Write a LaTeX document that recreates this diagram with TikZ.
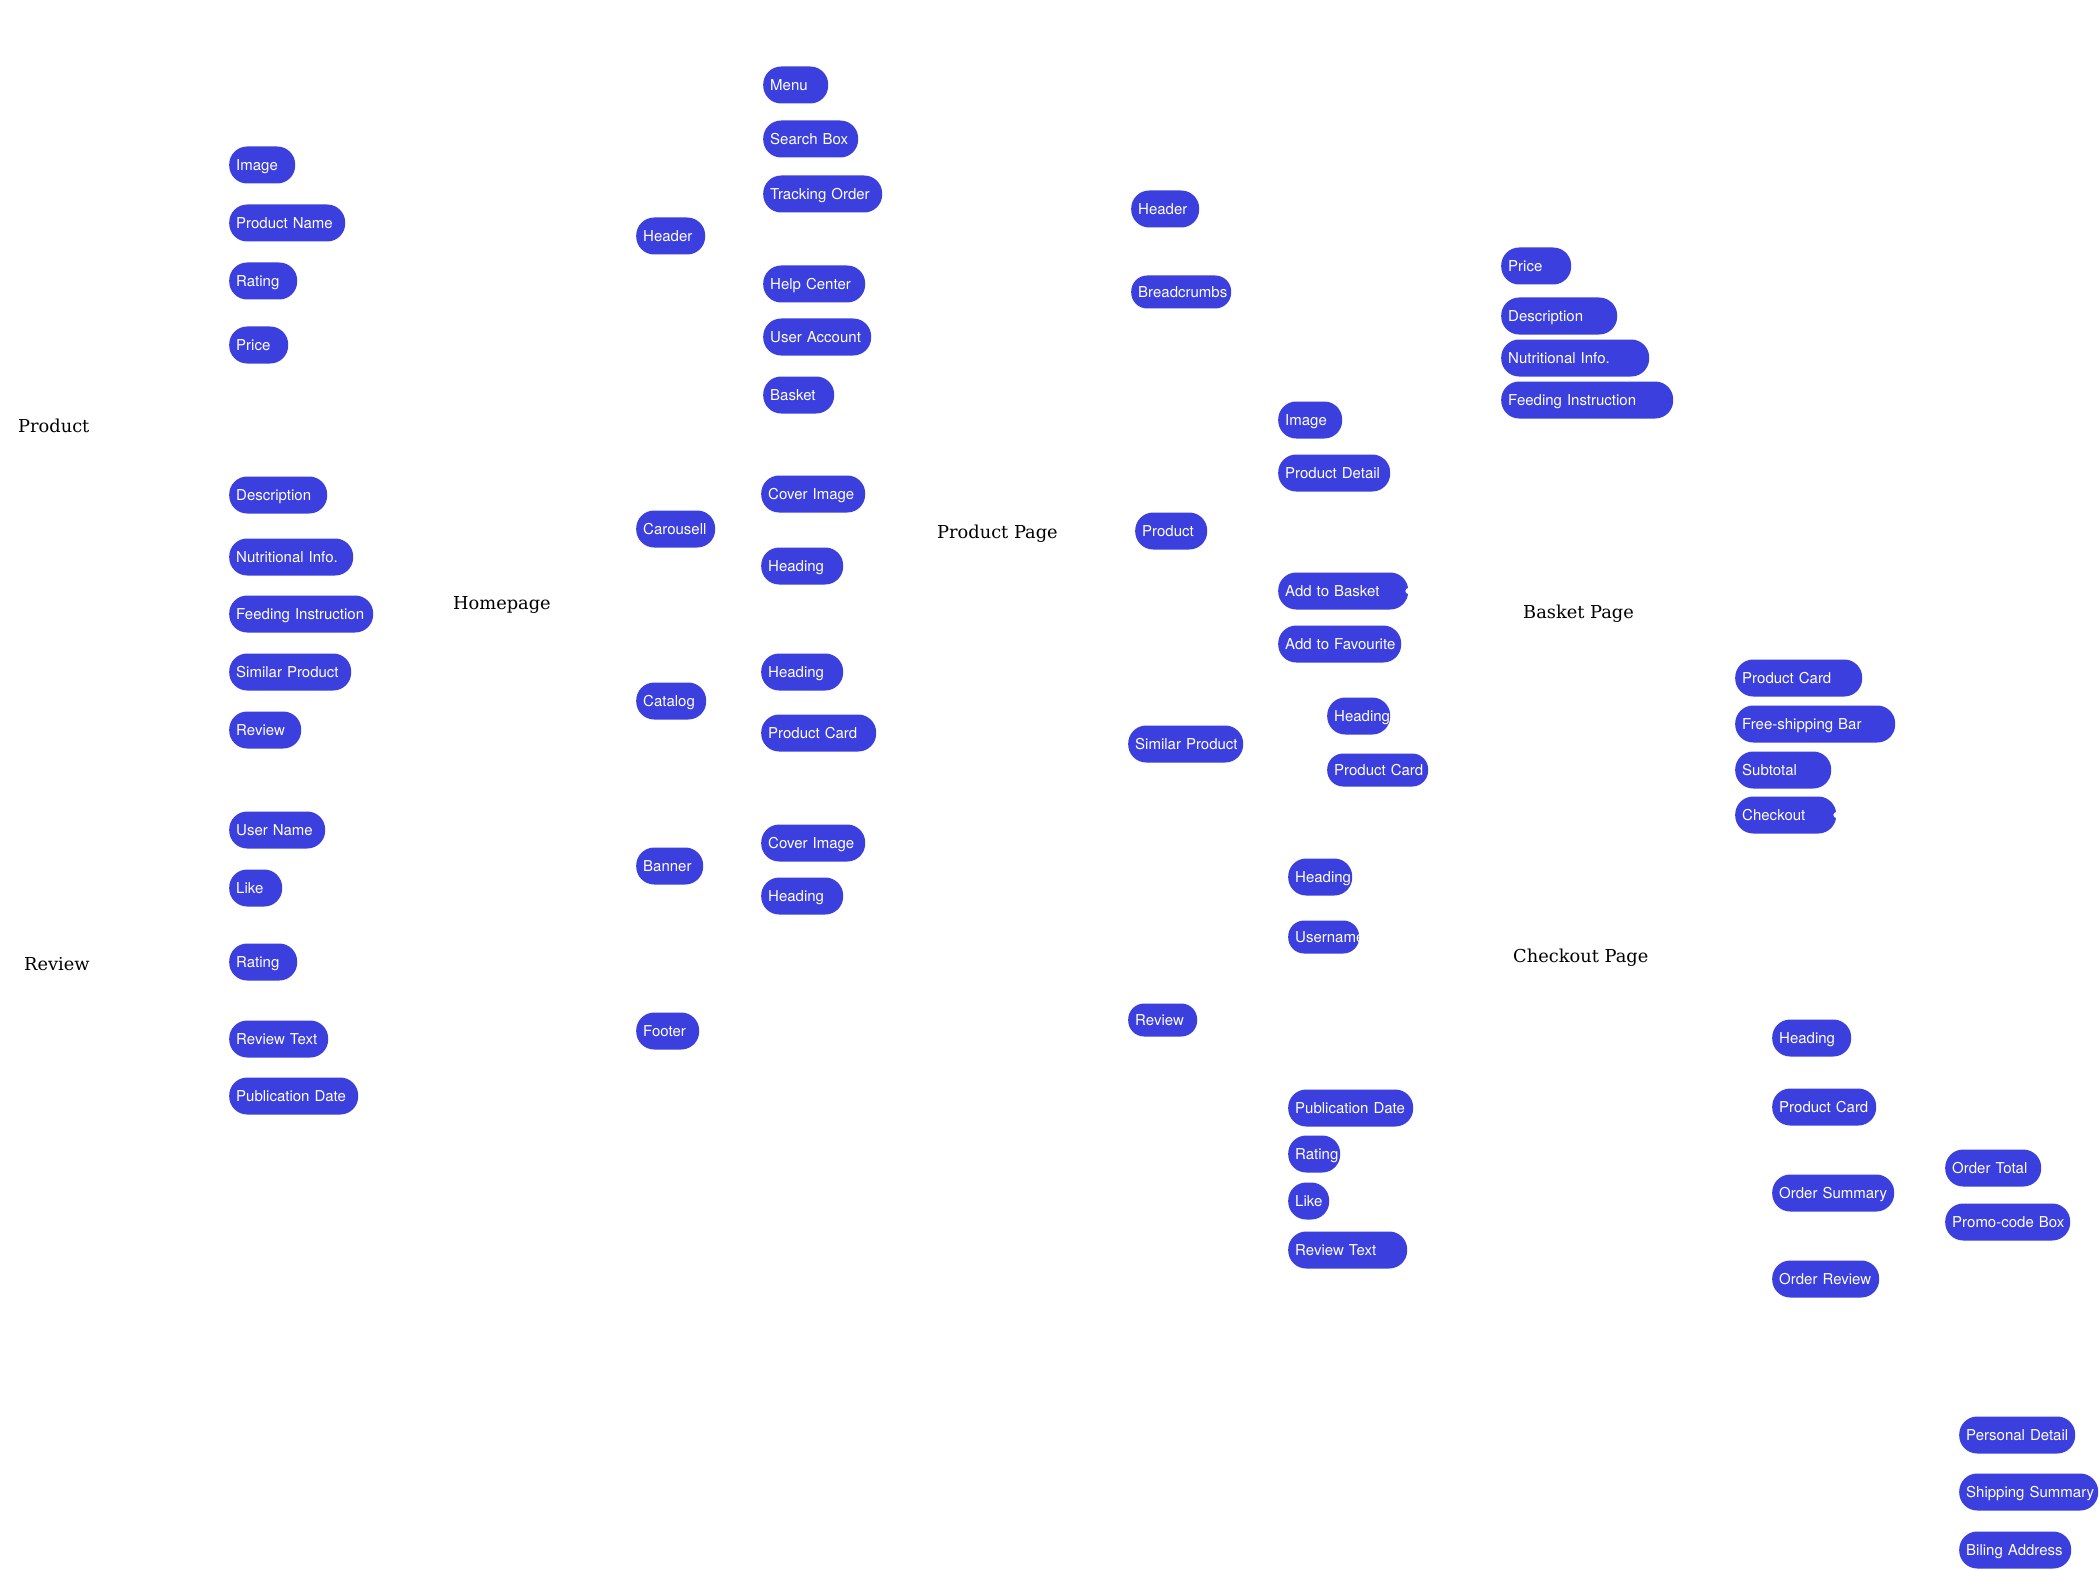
\documentclass[tikz,border=0pt]{standalone}
\usepackage{fontspec}
\usepackage{tikz}
\newfontfamily\pillfamily{TeX Gyre Heros}
\newfontfamily\titlefamily{DejaVu Serif}
\definecolor{pillblue}{RGB}{59,63,221}
\tikzset{
  pill/.style={rectangle, fill=pillblue, rounded corners=18pt, anchor=west,
    minimum height=37pt, inner xsep=7pt, inner ysep=0pt, text width=#1,
    text height=11pt, text depth=0pt, text=white,
    font=\pillfamily\fontsize{15}{18}\selectfont,
    execute at begin node={\leavevmode\hbox\bgroup}, execute at end node={\egroup}},
  slimpill/.style={pill=#1, minimum height=33pt, rounded corners=16pt},
  pagetitle/.style={anchor=base west, inner sep=0pt,
    font=\titlefamily\fontsize{17.8}{20}\selectfont},
}

\begin{document}
\begin{tikzpicture}[x=1pt, y=-1pt]
  \useasboundingbox[fill=white] (0,0) rectangle (2099,1570);

  % page titles
  \node[pagetitle] (tProduct) at (18,432) {Product};
  \node[pagetitle] (tReview) at (24,970) {Review};
  \node[pagetitle] (tHome) at (453,609) {Homepage};
  \node[pagetitle] (tProductPage) at (937,538) {Product Page};
  \node[pagetitle] (tBasket) at (1523,618) {Basket Page};
  \node[pagetitle] (tCheckout) at (1513,962) {Checkout Page};

  % Product
  \node[pill=52pt] (pImage) at (229,165) {Image};
  \node[pill=102pt] (pName) at (229,223) {Product Name};
  \node[pill=54pt] (pRating) at (229,281) {Rating};
  \node[pill=45pt] (pPrice) at (229,345) {Price};
  \node[pill=84pt] (pDesc) at (229,495) {Description};
  \node[pill=110pt] (pNutri) at (229,557) {Nutritional Info.};
  \node[pill=130pt] (pFeed) at (229,614) {Feeding Instruction};
  \node[pill=108pt] (pSimilar) at (229,672) {Similar Product};
  \node[pill=58pt] (pReview) at (229,730) {Review};

  % Review
  \node[pill=82pt] (rUser) at (229,830) {User Name};
  \node[pill=39pt] (rLike) at (229,888) {Like};
  \node[pill=54pt] (rRating) at (229,962) {Rating};
  \node[pill=85pt] (rText) at (229,1039) {Review Text};
  \node[pill=115pt] (rDate) at (229,1096) {Publication Date};

  % Homepage
  \node[pill=55pt] (hHeader) at (636,236) {Header};
  \node[pill=65pt] (hCarousel) at (636,529) {Carousell};
  \node[pill=56pt] (hCatalog) at (636,701) {Catalog};
  \node[pill=53pt] (hBanner) at (636,866) {Banner};
  \node[pill=49pt] (hFooter) at (636,1031) {Footer};
  \node[pill=51pt] (hMenu) at (763,85) {Menu};
  \node[pill=81pt] (hSearch) at (763,139) {Search Box};
  \node[pill=105pt] (hTrack) at (763,194) {Tracking Order};
  \node[pill=88pt] (hHelp) at (763,284) {Help Center};
  \node[pill=94pt] (hAccount) at (763,337) {User Account};
  \node[pill=57pt] (hBasket) at (763,395) {Basket};
  \node[pill=90pt] (hCoverA) at (761,494) {Cover Image};
  \node[pill=68pt] (hHeadA) at (761,566) {Heading};
  \node[pill=68pt] (hHeadB) at (761,672) {Heading};
  \node[pill=101pt] (hCard) at (761,733) {Product Card};
  \node[pill=90pt] (hCoverB) at (761,843) {Cover Image};
  \node[pill=68pt] (hHeadC) at (761,896) {Heading};

  % Product Page
  \node[pill=54pt] (ppHeader) at (1131,209) {Header};
  \node[slimpill=86pt] (ppCrumbs) at (1131,292) {Breadcrumbs};
  \node[pill=58pt] (ppProduct) at (1135,531) {Product};
  \node[pill=101pt] (ppSimilar) at (1128,744) {Similar Product};
  \node[slimpill=55pt] (ppReview) at (1128,1020) {Review};
  \node[pill=50pt] (ppImage) at (1278,420) {Image};
  \node[pill=98pt] (ppDetail) at (1278,473) {Product Detail};
  \node[pill=116pt] (ppAddBasket) at (1278,591) {Add to Basket};
  \node[pill=109pt] (ppAddFav) at (1278,644) {Add to Favourite};
  \node[pill=49pt] (ppSimHead) at (1327,716) {Heading};
  \node[slimpill=87pt] (ppSimCard) at (1327,770) {Product Card};
  \node[pill=50pt] (ppRevHead) at (1288,877) {Heading};
  \node[slimpill=57pt] (ppRevUser) at (1288,937) {Username};
  \node[pill=111pt] (ppRevDate) at (1288,1108) {Publication Date};
  \node[pill=38pt] (ppRevRating) at (1288,1154) {Rating};
  \node[pill=27pt] (ppRevLike) at (1288,1201) {Like};
  \node[pill=105pt] (ppRevText) at (1288,1250) {Review Text};
  \fill[white] (ppAddBasket.east) circle (3);

  % Basket Page
  \node[pill=56pt] (bPrice) at (1501,266) {Price};
  \node[pill=102pt] (bDesc) at (1501,316) {Description};
  \node[pill=134pt] (bNutri) at (1501,358) {Nutritional Info.};
  \node[pill=158pt] (bFeed) at (1501,400) {Feeding Instruction};
  \node[pill=113pt] (bCard) at (1735,678) {Product Card};
  \node[pill=146pt] (bShip) at (1735,724) {Free-shipping Bar};
  \node[pill=82pt] (bSubtotal) at (1735,770) {Subtotal};
  \node[pill=87pt] (bCheckout) at (1735,815) {Checkout};
  \fill[white] (bCheckout.east) circle (3);

  % Checkout Page
  \node[pill=65pt] (cHead) at (1772,1038) {Heading};
  \node[pill=90pt] (cCard) at (1772,1107) {Product Card};
  \node[pill=108pt] (cSummary) at (1772,1193) {Order Summary};
  \node[pill=93pt] (cReview) at (1772,1279) {Order Review};
  \node[pill=82pt] (cTotal) at (1945,1168) {Order Total};
  \node[pill=111pt] (cPromo) at (1945,1222) {Promo-code Box};
  \node[pill=102pt] (cPersonal) at (1959,1435) {Personal Detail};
  \node[pill=125pt] (cShipping) at (1959,1492) {Shipping Summary};
  \node[pill=98pt] (cBilling) at (1959,1550) {Biling Address};
\end{tikzpicture}
\end{document}
